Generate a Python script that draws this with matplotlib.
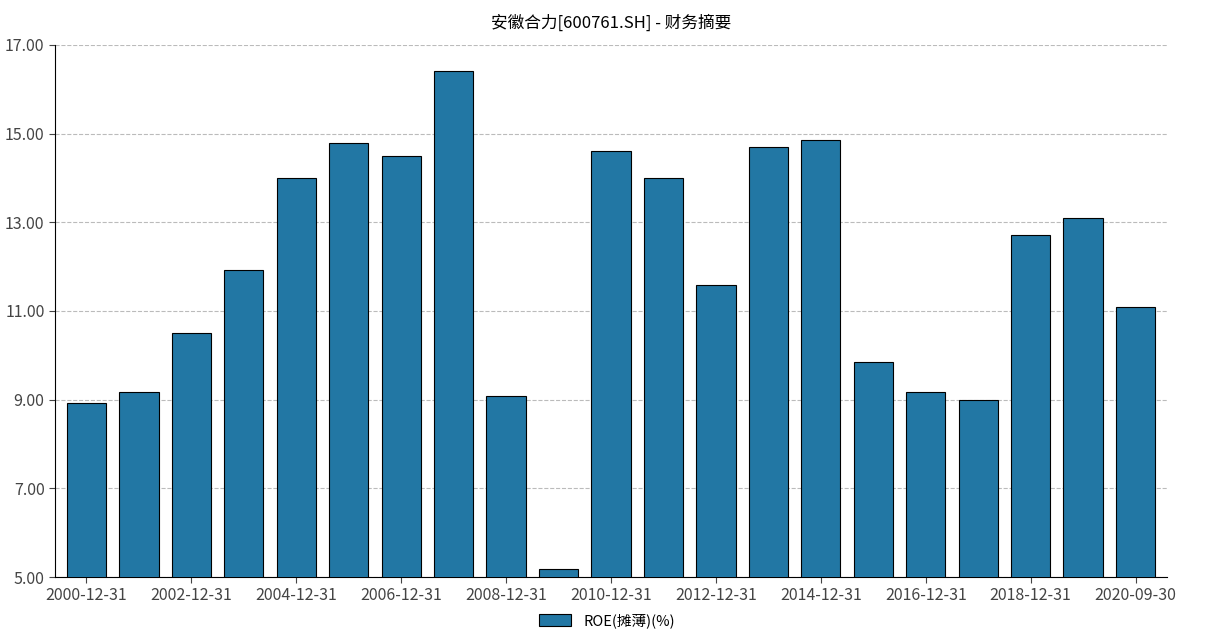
import matplotlib
matplotlib.use("Agg")
import matplotlib.pyplot as plt
import numpy as np

plt.rcParams["font.family"] = ["Noto Sans CJK SC", "DejaVu Sans"]

dates = ["2000-12-31", "2001-12-31", "2002-12-31", "2003-12-31", "2004-12-31",
         "2005-12-31", "2006-12-31", "2007-12-31", "2008-12-31", "2009-12-31",
         "2010-12-31", "2011-12-31", "2012-12-31", "2013-12-31", "2014-12-31",
         "2015-12-31", "2016-12-31", "2017-12-31", "2018-12-31", "2019-12-31",
         "2020-09-30"]
roe = [8.92, 9.17, 10.50, 11.93, 14.00, 14.79, 14.50, 16.41, 9.08, 5.18,
       14.61, 14.00, 11.59, 14.70, 14.86, 9.85, 9.17, 8.99, 12.71, 13.10, 11.09]

fig = plt.figure(figsize=(12.14, 6.38), dpi=100)
ax = fig.add_axes([0.0453, 0.0956, 0.916, 0.834])

x = np.arange(len(dates))
ax.bar(x, roe, width=0.75, color="#2277a4", edgecolor="black", linewidth=0.8,
       label="ROE(摊薄)(%)", zorder=3)

ax.set_ylim(5, 17)
ax.set_xlim(-0.6, len(dates) - 0.4)
ax.set_yticks(np.arange(5, 17.1, 2))
ax.set_yticklabels([f"{v:.2f}" for v in np.arange(5, 17.1, 2)])
ax.set_xticks(x[::2])
labels = [dates[i] for i in x[::2]]
labels[-1] = dates[-1]
ax.set_xticks(list(x[::2][:-1]) + [x[-1]])
ax.set_xticklabels(labels)
ax.tick_params(labelsize=11.5, colors="#444444", length=4)
ax.grid(axis="y", linestyle="--", color="#bbbbbb", linewidth=0.8, zorder=0)
for s in ("top", "right"):
    ax.spines[s].set_visible(False)

ax.set_title("安徽合力[600761.SH] - 财务摘要", fontsize=12, pad=12)
fig.legend(loc="lower center", bbox_to_anchor=(0.5, -0.005), frameon=False,
           fontsize=10.5, handlelength=2.2, handleheight=0.8)

fig.savefig("out.png", dpi=100)
